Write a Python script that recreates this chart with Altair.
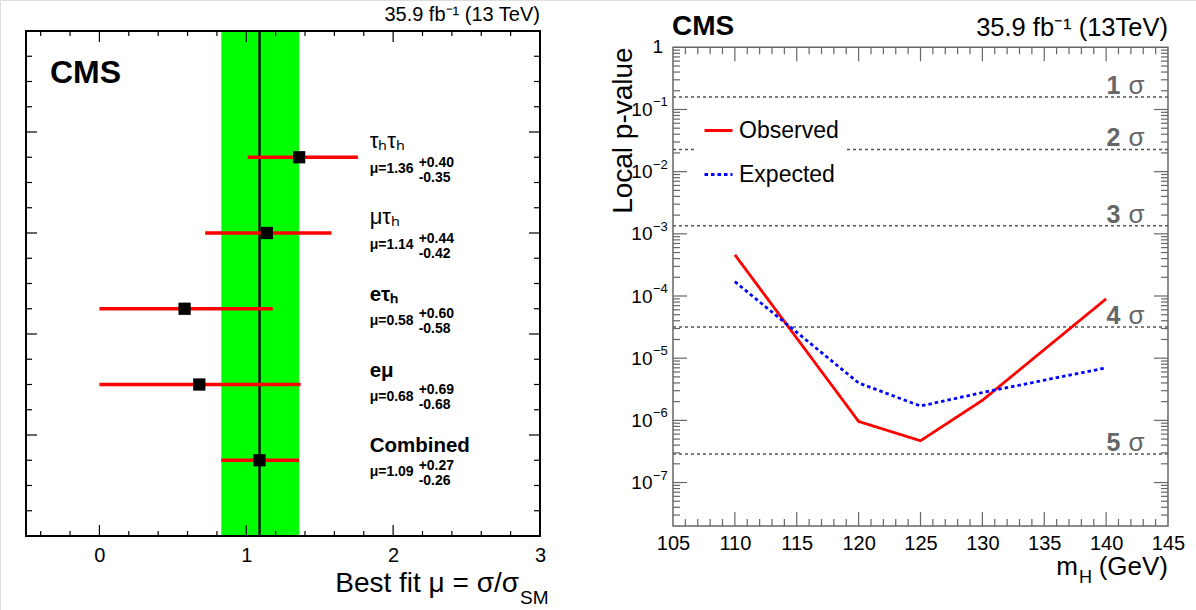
import altair as alt
import pandas as pd

# ---------------- data ----------------
channels = ["τₕτₕ", "μτₕ", "eτₕ", "eμ", "Combined"]
mu_best = [1.36, 1.14, 0.58, 0.68, 1.09]
mu_up = [0.40, 0.44, 0.60, 0.69, 0.27]
mu_down = [0.35, 0.42, 0.58, 0.68, 0.26]
row_pos = [7.5, 6.0, 4.5, 3.0, 1.5]

mass = [110, 120, 125, 130, 140]
p_observed = [4.6e-4, 9.6e-7, 4.7e-7, 2.1e-6, 9.0e-5]
p_expected = [1.7e-4, 4.0e-6, 1.7e-6, 2.8e-6, 7.0e-6]

sigma_labels = ["1", "2", "3", "4", "5"]
sigma_p = [0.1587, 0.02275, 1.35e-3, 3.17e-5, 2.87e-7]

left_x_labels = [0, 1, 2, 3]
right_x_labels = [105, 110, 115, 120, 125, 130, 135, 140, 145]
right_y_decades = [1e-7, 1e-6, 1e-5, 1e-4, 1e-3, 1e-2, 1e-1]
right_y_exponents = ["−7", "−6", "−5", "−4", "−3", "−2", "−1"]

# ---------------- layout ----------------
W, H = 1196, 610
FONT = "Liberation Sans"
LX0, LX1, LYT, LYB = 26, 540, 31, 536
RX0, RX1, RYT, RYB = 673, 1168, 47.3, 526

xL = alt.Scale(domain=[-0.5, 3], range=[LX0, LX1], nice=False, zero=False)
yL = alt.Scale(domain=[0, 10], range=[LYB, LYT], nice=False, zero=False)
xR = alt.Scale(domain=[105, 145], range=[RX0, RX1], nice=False, zero=False)
yR = alt.Scale(type="log", domain=[2e-8, 1], range=[RYB, RYT], nice=False)

common_axis = dict(title=None, ticks=False, domain=False, grid=False,
                   labelFlush=False, labelOverlap=False, labelColor="black",
                   labelFont=FONT)
axL = alt.Axis(values=left_x_labels, orient="bottom", offset=-(H - LYB),
               labelFontSize=20, labelPadding=9, **common_axis)
axRx = alt.Axis(values=right_x_labels, orient="bottom", offset=-(H - RYB),
                labelFontSize=20, labelPadding=7, **common_axis)
axRy = alt.Axis(values=right_y_decades, orient="left", offset=-RX0,
                labelFontSize=19, labelPadding=21, labelBaseline="middle",
                labelExpr="'10'", **common_axis)


def LXf(field):
    return alt.X(field, type="quantitative", scale=xL, axis=axL)


def LXd(v):
    return alt.X(datum=v, type="quantitative", scale=xL, axis=axL)


def LYf(field):
    return alt.Y(field, type="quantitative", scale=yL, axis=None)


def LYd(v):
    return alt.Y(datum=v, type="quantitative", scale=yL, axis=None)


def RXf(field):
    return alt.X(field, type="quantitative", scale=xR, axis=axRx)


def RXd(v):
    return alt.X(datum=v, type="quantitative", scale=xR, axis=axRx)


def RYf(field):
    return alt.Y(field, type="quantitative", scale=yR, axis=axRy)


def RYd(v):
    return alt.Y(datum=v, type="quantitative", scale=yR, axis=axRy)


def text_at(txt, x, y, **kw):
    return alt.Chart(pd.DataFrame({"t": [txt]})).mark_text(font=FONT, **kw).encode(
        x=alt.value(x), y=alt.value(y), text="t:N")


# ---------------- left panel ----------------
dfL = pd.DataFrame({
    "name": channels, "mu": mu_best, "up": mu_up, "down": mu_down, "pos": row_pos,
})
dfL["lo"] = dfL["mu"] - dfL["down"]
dfL["hi"] = dfL["mu"] + dfL["up"]
dfL["mutxt"] = ["μ=%.2f" % v for v in mu_best]
dfL["uptxt"] = ["+%.2f" % v for v in mu_up]
dfL["dntxt"] = ["-%.2f" % v for v in mu_down]
dfL["latin"] = [n[0].isascii() for n in channels]
comb = dfL[dfL["name"] == "Combined"]

band = alt.Chart(comb).mark_rect(color="#00ff00").encode(
    x=LXf("lo"), x2="hi", y=LYd(0), y2=alt.Y2(datum=10))
comb_line = alt.Chart(comb).mark_rule(color="black", strokeWidth=2.3).encode(
    x=LXf("mu"), y=LYd(0), y2=alt.Y2(datum=10))
bars = alt.Chart(dfL).mark_rule(color="#ff0000", strokeWidth=3.5).encode(
    x=LXf("lo"), x2="hi", y=LYf("pos"))
pts = alt.Chart(dfL).mark_square(size=150, color="black", opacity=1).encode(
    x=LXf("mu"), y=LYf("pos"))

LABX = 1.84
name_greek = alt.Chart(dfL[~dfL["latin"]]).mark_text(
    align="left", baseline="alphabetic", dy=-9, fontSize=22, font=FONT).encode(
    x=LXd(LABX), y=LYf("pos"), text="name:N")
name_latin = alt.Chart(dfL[dfL["latin"]]).mark_text(
    align="left", baseline="alphabetic", dy=-8, fontSize=20.5, fontWeight="bold", font=FONT).encode(
    x=LXd(LABX), y=LYf("pos"), text="name:N")
mu_txt = alt.Chart(dfL).mark_text(
    align="left", baseline="alphabetic", dy=16, fontSize=14, fontWeight="bold", font=FONT).encode(
    x=LXd(LABX), y=LYf("pos"), text="mutxt:N")
up_txt = alt.Chart(dfL).mark_text(
    align="left", baseline="alphabetic", dx=49, dy=9.5, fontSize=14, fontWeight="bold", font=FONT).encode(
    x=LXd(LABX), y=LYf("pos"), text="uptxt:N")
dn_txt = alt.Chart(dfL).mark_text(
    align="left", baseline="alphabetic", dx=49, dy=24.5, fontSize=14, fontWeight="bold", font=FONT).encode(
    x=LXd(LABX), y=LYf("pos"), text="dntxt:N")


def vticks(vals, xenc, y_edge, length, color, up=True):
    d = pd.DataFrame({"v": vals})
    return alt.Chart(d).mark_rule(color=color, strokeWidth=1.2).encode(
        x=xenc("v"), y=alt.value(y_edge), y2=alt.value(y_edge - length if up else y_edge + length))


def hticks(vals, yenc, x_edge, length, color, right=True):
    d = pd.DataFrame({"v": vals})
    return alt.Chart(d).mark_rule(color=color, strokeWidth=1.2).encode(
        y=yenc("v"), x=alt.value(x_edge), x2=alt.value(x_edge + length if right else x_edge - length))


lx_major = [0, 1, 2]
lx_minor = [round(-0.4 + 0.2 * i, 1) for i in range(17) if abs((-0.4 + 0.2 * i) - round(-0.4 + 0.2 * i)) > 1e-6]
ly_major = [2, 4, 6, 8]
ly_minor = [0.5 * i for i in range(1, 20) if (0.5 * i) % 2 != 0]

left_ticks = [
    vticks(lx_major, LXf, LYB, 11, "black", True),
    vticks(lx_minor, LXf, LYB, 5, "black", True),
    vticks(lx_major, LXf, LYT, 11, "black", False),
    vticks(lx_minor, LXf, LYT, 5, "black", False),
    hticks(ly_major, LYf, LX0, 11, "black", True),
    hticks(ly_minor, LYf, LX0, 6, "black", True),
    hticks(ly_major, LYf, LX1, 11, "black", False),
    hticks(ly_minor, LYf, LX1, 6, "black", False),
]

frameL = alt.Chart(pd.DataFrame({"a": [0]})).mark_rect(
    fillOpacity=0, stroke="black", strokeWidth=2).encode(
    x=LXd(-0.5), x2=alt.X2(datum=3), y=LYd(0), y2=alt.Y2(datum=10))

left = alt.layer(
    band, comb_line, bars, pts, name_greek, name_latin, mu_txt, up_txt, dn_txt,
    *left_ticks, frameL,
    text_at("35.9 fb⁻¹ (13 TeV)", LX1, 21, align="right", baseline="alphabetic", fontSize=20),
    text_at("CMS", 50, 83, align="left", baseline="alphabetic", fontSize=32, fontWeight="bold"),
    text_at("Best fit μ = σ/σ", 519, 592, align="right", baseline="alphabetic", fontSize=28),
    text_at("SM", 520, 604, align="left", baseline="alphabetic", fontSize=19),
)

# ---------------- right panel ----------------
dfS = pd.DataFrame({"lab": sigma_labels, "p": sigma_p})
sig_lines = alt.Chart(dfS).mark_rule(color="#555555", strokeDash=[3, 3], strokeWidth=1.5).encode(
    x=RXd(105), x2=alt.X2(datum=145), y=RYf("p"))
sig_num = alt.Chart(dfS).mark_text(
    align="right", baseline="alphabetic", dy=-3, fontSize=25, fontWeight="bold",
    color="#666666", font=FONT).encode(x=RXd(141.15), y=RYf("p"), text="lab:N")
sig_sym = alt.Chart(dfS).mark_text(
    align="left", baseline="alphabetic", dy=-3, fontSize=26, color="#666666", font=FONT).encode(
    x=RXd(141.8), y=RYf("p"), text=alt.value("σ"))

dfE = pd.DataFrame({"p": right_y_decades, "e": right_y_exponents})
exps = alt.Chart(dfE).mark_text(
    align="left", baseline="alphabetic", dy=-3, fontSize=13, font=FONT).encode(
    x=alt.value(RX0 - 20), y=RYf("p"), text="e:N")
one_lab = alt.Chart(pd.DataFrame({"t": ["1"]})).mark_text(
    align="right", baseline="middle", fontSize=19, font=FONT).encode(
    x=alt.value(RX0 - 10), y=RYd(1), text="t:N")

series_order = ["Observed", "Expected"]
dfP = pd.concat([
    pd.DataFrame({"m": mass, "p": p_observed, "series": "Observed"}),
    pd.DataFrame({"m": mass, "p": p_expected, "series": "Expected"}),
])
leg = alt.Legend(title=None, orient="none", legendX=697, legendY=109,
                 symbolType="stroke", symbolSize=784, symbolStrokeWidth=2.8,
                 labelFontSize=23, labelFont=FONT, labelColor="black",
                 labelOffset=5, rowPadding=16, padding=6, fillColor="white")
lines = alt.Chart(dfP).mark_line(strokeWidth=2.8).encode(
    x=RXf("m"), y=RYf("p"),
    color=alt.Color("series:N", sort=series_order,
                    scale=alt.Scale(domain=series_order, range=["#ff0000", "#0000ff"]), legend=leg),
    strokeDash=alt.StrokeDash("series:N", sort=series_order,
                              scale=alt.Scale(domain=series_order, range=[[1, 0], [3.5, 3]]), legend=leg),
)

rx_major = [110, 115, 120, 125, 130, 135, 140]
rx_minor = [v for v in range(106, 145) if v % 5 != 0]
ry_major = [1e-7, 1e-6, 1e-5, 1e-4, 1e-3, 1e-2, 1e-1]
ry_minor = [k * 10.0 ** n for n in range(-8, 0) for k in range(2, 10) if k * 10.0 ** n >= 2.01e-8]
GR = "#666666"
right_ticks = [
    vticks(rx_major, RXf, RYB, 14, GR, True),
    vticks(rx_minor, RXf, RYB, 7, GR, True),
    vticks(rx_major, RXf, RYT, 14, GR, False),
    vticks(rx_minor, RXf, RYT, 7, GR, False),
    hticks(ry_major, RYf, RX0, 14, GR, True),
    hticks(ry_minor, RYf, RX0, 7, GR, True),
    hticks(ry_major, RYf, RX1, 14, GR, False),
    hticks(ry_minor, RYf, RX1, 7, GR, False),
]
frameR = alt.Chart(pd.DataFrame({"a": [0]})).mark_rect(
    fillOpacity=0, stroke=GR, strokeWidth=1.5).encode(
    x=RXd(105), x2=alt.X2(datum=145), y=RYd(2e-8), y2=alt.Y2(datum=1))

right = alt.layer(
    sig_lines, sig_num, sig_sym, lines, *right_ticks, frameR, exps, one_lab,
    text_at("CMS", 672, 35, align="left", baseline="alphabetic", fontSize=28, fontWeight="bold"),
    text_at("35.9 fb⁻¹ (13TeV)", RX1, 36, align="right", baseline="alphabetic", fontSize=25.5),
    text_at("Local p-value", 632, RYT, align="right", baseline="alphabetic", fontSize=28, angle=270),
    text_at(" (GeV)", RX1, 575, align="right", baseline="alphabetic", fontSize=26),
    text_at("H", 1092, 583, align="right", baseline="alphabetic", fontSize=18),
    text_at("m", 1078, 575, align="right", baseline="alphabetic", fontSize=26),
)

chart = alt.layer(left, right).resolve_scale(
    x="independent", y="independent"
).properties(
    width=W, height=H, padding=0, autosize=alt.AutoSizeParams(type="none")
).configure_view(stroke=None).configure(background="white")

chart.save("out.html", embed_options={"renderer": "svg", "actions": False})
